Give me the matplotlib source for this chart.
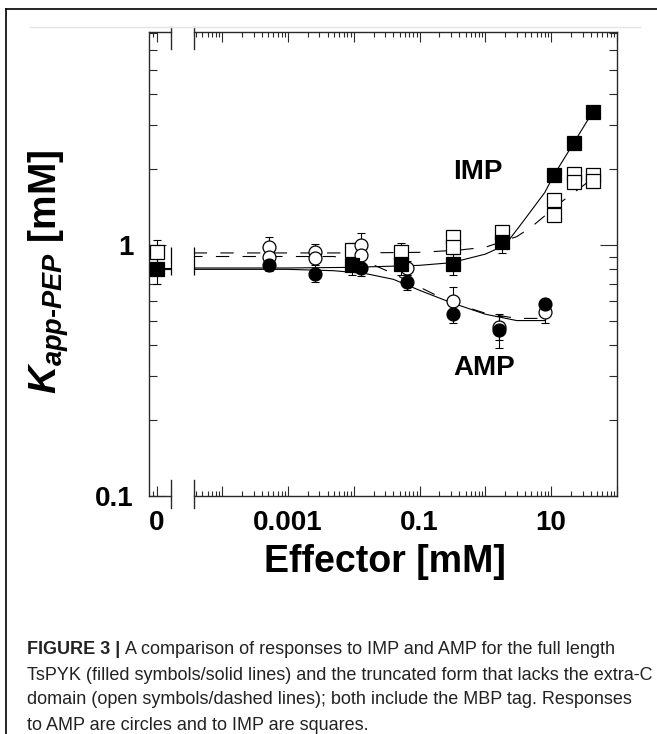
import numpy as np
import matplotlib
matplotlib.use("Agg")
import matplotlib.pyplot as plt
from matplotlib.lines import Line2D
from matplotlib.ticker import LogLocator, NullFormatter

plt.rcParams["font.family"] = ["Liberation Sans", "DejaVu Sans"]
plt.rcParams["mathtext.fontset"] = "custom"
plt.rcParams["mathtext.it"] = "Liberation Sans:italic:bold"
plt.rcParams["mathtext.rm"] = "Liberation Sans:bold"
plt.rcParams["mathtext.bf"] = "Liberation Sans:bold"

# ---- data (effector in mM, K_app-PEP in mM) ----
# IMP, full length (filled squares)
imp_full_x = [0, 0.0094, 0.053, 0.32, 1.8, 11, 22, 43]
imp_full_y = [0.80, 0.83, 0.84, 0.84, 1.03, 1.9, 2.55, 3.4]
imp_full_err = [0.1, 0.07, 0.08, 0.08, 0.1, 0, 0, 0]
# IMP, truncated (open squares)
imp_trunc_x = [0, 0.0094, 0.053, 0.32, 0.32, 1.8, 11, 11, 22, 22, 43, 43]
imp_trunc_y = [0.935, 0.955, 0.94, 1.08, 0.98, 1.13, 1.51, 1.32, 1.92, 1.78, 1.9, 1.8]
imp_trunc_err = [0.11, 0.06, 0.08, 0.06, 0, 0, 0, 0, 0, 0, 0, 0]
# AMP, full length (filled circles)
amp_full_x = [0.00051, 0.00256, 0.0128, 0.064, 0.32, 1.6, 8]
amp_full_y = [0.83, 0.77, 0.81, 0.71, 0.53, 0.46, 0.58]
amp_full_err = [0.04, 0.06, 0.06, 0.05, 0.04, 0.07, 0.03]
# AMP, truncated (open circles)
amp_trunc_x = [0.00051, 0.00051, 0.00256, 0.00256, 0.0128, 0.0128, 0.064, 0.32, 1.6, 8]
amp_trunc_y = [0.98, 0.90, 0.94, 0.89, 1.0, 0.91, 0.81, 0.60, 0.47, 0.54]
amp_trunc_err = [0.1, 0, 0.07, 0, 0.12, 0, 0.05, 0.08, 0.05, 0.05]

# fitted curves, points
imp_fit_x = [3.7e-5, 1e-3, 0.01, 0.1, 0.3, 1, 2, 4, 8, 11, 22, 43]
imp_fit_y = [0.81, 0.81, 0.815, 0.83, 0.85, 0.92, 1.0, 1.27, 1.62, 1.9, 2.55, 3.4]
imp_dash_x = [3.7e-5, 0.01, 0.1, 0.4, 1, 3, 5, 15, 35, 45]
imp_dash_y = [0.93, 0.93, 0.935, 0.955, 0.98, 1.08, 1.18, 1.5, 1.77, 1.83]
amp_fit_x = [3.7e-5, 1e-3, 0.005, 0.015, 0.04, 0.1, 0.3, 1, 3, 8]
amp_fit_y = [0.80, 0.80, 0.79, 0.77, 0.73, 0.66, 0.59, 0.53, 0.50, 0.50]
amp_dash_x = [3.7e-5, 0.005, 0.015, 0.04, 0.1, 0.3, 1, 3, 8]
amp_dash_y = [0.90, 0.90, 0.86, 0.77, 0.68, 0.59, 0.535, 0.51, 0.51]

x_major = [1e-4, 1e-3, 1e-2, 1e-1, 1, 10, 100]
x_labels = ["", "0.001", "", "0.1", "", "10", ""]
y_major = [0.1, 1]
y_labels = ["0.1", "1"]

caption_head = "FIGURE 3 |"
caption_lines = [
    "A comparison of responses to IMP and AMP for the full length",
    "TsPYK (filled symbols/solid lines) and the truncated form that lacks the extra-C",
    "domain (open symbols/dashed lines); both include the MBP tag. Responses",
    "to AMP are circles and to IMP are squares.",
]

W, H = 657, 734
XMIN = 3.7e-5
fig = plt.figure(figsize=(W / 100, H / 100), dpi=100)


def fx(px):
    return px / W


def fy(py):
    return 1 - py / H


ax0 = fig.add_axes([fx(149), fy(496), fx(171) - fx(149), fy(32) - fy(496)])
ax1 = fig.add_axes([fx(193.7), fy(496), fx(617) - fx(193.7), fy(32) - fy(496)])

AXC = "#2a2a2a"
for ax in (ax0, ax1):
    ax.set_yscale("log")
    ax.set_ylim(0.1, 7.06)
    for s in ax.spines.values():
        s.set_color(AXC)
        s.set_linewidth(1.0)
ax0.spines["right"].set_visible(False)
ax1.spines["left"].set_visible(False)
ax0.set_xlim(-1, 1.75)
ax1.set_xscale("log")
ax1.set_xlim(XMIN, 100)


def split(xs, ys, es):
    z = [(x, y, e) for x, y, e in zip(xs, ys, es) if x == 0]
    nz = [(x, y, e) for x, y, e in zip(xs, ys, es) if x != 0]
    return z, nz


def draw(xs, ys, es, marker, filled):
    z, nz = split(xs, ys, es)
    for ax, pts in ((ax0, z), (ax1, nz)):
        if not pts:
            continue
        px, py, pe = zip(*pts)
        ax.errorbar(px, py, yerr=pe, fmt="none", ecolor="k", elinewidth=0.8,
                    capsize=2.6, capthick=0.8, zorder=2)
        ax.plot(px, py, marker, ls="none", ms=9.5 if marker == "s" else 9.3,
                mfc="k" if filled else "white", mec="k", mew=0.9,
                zorder=4 if filled else 3, clip_on=False)


# curves
ax1.plot(imp_fit_x, imp_fit_y, "-", color="k", lw=0.8, zorder=1)
ax1.plot(amp_fit_x, amp_fit_y, "-", color="k", lw=0.8, zorder=1)
ax1.plot(imp_dash_x, imp_dash_y, color="k", lw=0.8, ls=(0, (12, 12)), zorder=1)
ax1.plot(amp_dash_x, amp_dash_y, color="k", lw=0.8, ls=(4, (12, 12)), zorder=1)
ax0.hlines([imp_fit_y[0], amp_fit_y[0]], 0, 1.75, color="k", lw=0.8, zorder=1)
ax0.vlines(1.75, 0.76, 0.985, color="k", lw=0.9, clip_on=False)
ax1.vlines(XMIN, 0.76, 0.985, color="k", lw=0.9, clip_on=False)

draw(imp_trunc_x, imp_trunc_y, imp_trunc_err, "s", False)
draw(amp_trunc_x, amp_trunc_y, amp_trunc_err, "o", False)
draw(imp_full_x, imp_full_y, imp_full_err, "s", True)
draw(amp_full_x, amp_full_y, amp_full_err, "o", True)

ax1.text(0.78, 1.95, "IMP", ha="center", va="center", fontsize=20, fontweight="bold")
ax1.text(0.97, 0.325, "AMP", ha="center", va="center", fontsize=20, fontweight="bold")

# ticks
ax1.set_xticks(x_major, labels=x_labels)
ax1.xaxis.set_minor_locator(LogLocator(base=10, subs=np.arange(2, 10), numticks=20))
ax1.xaxis.set_minor_formatter(NullFormatter())
ax0.set_xticks([0], labels=["0"])
ax0.set_xticks([-0.55], minor=True)
ax0.set_yticks(y_major, labels=y_labels)
ax1.set_yticks(y_major)
for ax in (ax0, ax1):
    ax.yaxis.set_minor_locator(LogLocator(base=10, subs=np.arange(2, 10), numticks=20))
    ax.yaxis.set_minor_formatter(NullFormatter())
    ax.tick_params(which="both", direction="in", color=AXC, width=0.8)
    ax.tick_params(axis="x", which="major", length=7, pad=10, top=True,
                   labelsize=20)
    ax.tick_params(axis="x", which="minor", length=3.5, top=True)
    ax.tick_params(axis="y", which="major", length=12, pad=11, labelsize=20)
    ax.tick_params(axis="y", which="minor", length=5.5)
    for lab in ax.get_xticklabels() + ax.get_yticklabels():
        lab.set_fontweight("bold")
ax0.tick_params(axis="y", which="both", left=True, right=False)
ax1.tick_params(axis="y", which="both", left=False, right=True, labelleft=False)

# axis break marks
for xp in (171, 193.7):
    fig.add_artist(Line2D([fx(xp), fx(xp)], [fy(480), fy(508)], color=AXC, lw=1.0))
    fig.add_artist(Line2D([fx(xp), fx(xp)], [fy(27), fy(49)], color=AXC, lw=1.0))

# axis titles
fig.text(fx(385), fy(562), "Effector [mM]", ha="center", va="center",
         fontsize=27, fontweight="bold")
fig.text(fx(49), fy(272), r"$K_{app\text{-}PEP}$ [mM]", ha="center", va="center",
         rotation=90, fontsize=28, fontweight="bold")

# page frame
fig.add_artist(Line2D([fx(6), 1], [fy(9), fy(9)], color="k", lw=1.2))
fig.add_artist(Line2D([fx(6), fx(6)], [fy(9), 0], color="k", lw=1.2))
fig.add_artist(Line2D([fx(30), fx(640)], [fy(27), fy(27)], color="#e4e4e4", lw=1.0))

# caption
cap_y = [650, 675, 700, 725]
cap_x = 27
head = fig.text(fx(cap_x), fy(cap_y[0]), caption_head, ha="left", va="center",
                fontsize=13, fontweight="bold", color="#222222")
fig.canvas.draw()
bb = head.get_window_extent()
fig.text((bb.x1 + 5) / W, fy(cap_y[0]), caption_lines[0], ha="left", va="center",
         fontsize=13, color="#222222")
for yy, line in zip(cap_y[1:], caption_lines[1:]):
    fig.text(fx(cap_x), fy(yy), line, ha="left", va="center", fontsize=13,
             color="#222222")

fig.savefig("out.png", dpi=100)
